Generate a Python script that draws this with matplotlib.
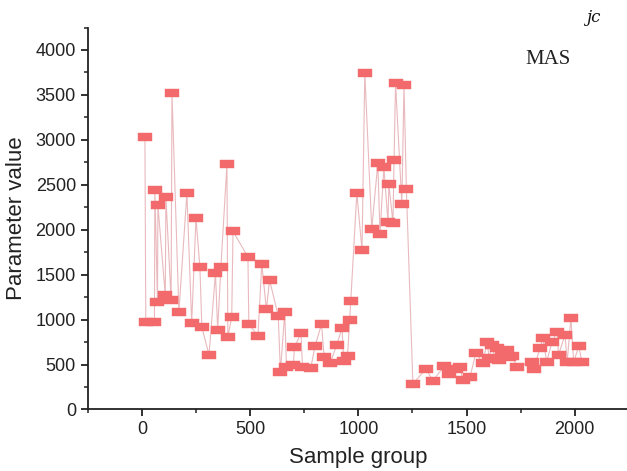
import numpy as np
import matplotlib
matplotlib.use("Agg")
from matplotlib import pyplot as plt
from matplotlib.ticker import MultipleLocator

# sample group positions and parameter values
sample_x = [14, 18, 58, 60, 72, 74, 108, 111, 135, 139,
            171, 208, 230, 250, 268, 277, 310, 340, 350, 365,
            393, 397, 415, 421, 490, 494, 536, 554, 575, 590,
            630, 640, 660, 668, 700, 705, 735, 742, 780, 800,
            830, 842, 870, 900, 925, 932, 950, 960, 965, 993,
            1017, 1030, 1062, 1090, 1100, 1118, 1137, 1141, 1160, 1165,
            1172, 1201, 1211, 1222, 1252, 1312, 1345, 1396, 1420, 1450,
            1470, 1483, 1516, 1543, 1576, 1594, 1605, 1617, 1630, 1640,
            1650, 1663, 1687, 1695, 1710, 1733, 1802, 1810, 1839, 1853,
            1870, 1895, 1918, 1925, 1955, 1965, 1982, 1995, 2019, 2033]
param_val = [3030, 975, 975, 2440, 1200, 2275, 1270, 2360, 1220, 3520,
             1085, 2408, 962, 2128, 1585, 918, 606, 1518, 884, 1585,
             2730, 806, 1028, 1983, 1696, 951, 817, 1618, 1115, 1440,
             1040, 417, 1080, 470, 500, 690, 850, 475, 460, 705,
             950, 585, 515, 720, 905, 540, 595, 995, 1205, 2408,
             1774, 3745, 2008, 2740, 1952, 2695, 2085, 2508, 2075, 2775,
             3630, 2285, 3610, 2450, 285, 450, 320, 480, 400, 450,
             470, 330, 360, 630, 515, 750, 575, 715, 560, 680,
             550, 630, 660, 585, 600, 475, 530, 450, 680, 795,
             530, 750, 865, 610, 830, 530, 1015, 530, 705, 530]

plt.rcParams['font.family'] = ['Liberation Sans', 'DejaVu Sans']

fig = plt.figure(figsize=(6.27, 4.71), dpi=100)
ax = fig.add_axes([0.140, 0.1306, 0.863, 0.811])

# wide rectangular marker like the stretched squares in the reference
rect = [(-13, -8.5), (13, -8.5), (13, 8.5), (-13, 8.5), (-13, -8.5)]
ax.plot(sample_x, param_val, color='#e9b9bd', lw=0.8, zorder=2)
ax.plot(sample_x, param_val, ls='none', marker=rect, ms=9.7,
        mfc='#f26a6c', mec='#f26a6c', mew=0.3, zorder=3)

ax.set_xlim(-250, 2250)
ax.set_ylim(0, 4250)
ax.xaxis.set_major_locator(MultipleLocator(500))
ax.xaxis.set_minor_locator(MultipleLocator(250))
ax.yaxis.set_major_locator(MultipleLocator(500))
ax.yaxis.set_minor_locator(MultipleLocator(250))

for s in ['top', 'right']:
    ax.spines[s].set_visible(False)
for s in ['left', 'bottom']:
    ax.spines[s].set_linewidth(1.3)
    ax.spines[s].set_color('#222222')

ax.tick_params(which='major', direction='out', length=5, width=1.3,
               labelsize=13, colors='#222222')
ax.tick_params(which='minor', direction='out', length=3, width=1.1,
               colors='#222222')

ax.set_xlabel('Sample group', fontsize=16, color='#222222', labelpad=6)
ax.set_ylabel('Parameter value', fontsize=16, color='#222222', labelpad=6)

ax.text(0.851, 0.915, 'MAS', transform=ax.transAxes, ha='center', va='center',
        fontsize=15, family='Liberation Serif', color='#222222')
fig.text(0.946, 0.962, 'jc', ha='center', va='center', fontsize=12,
         family='DejaVu Serif', style='italic', color='#111111')

fig.savefig('out.png', dpi=100)
